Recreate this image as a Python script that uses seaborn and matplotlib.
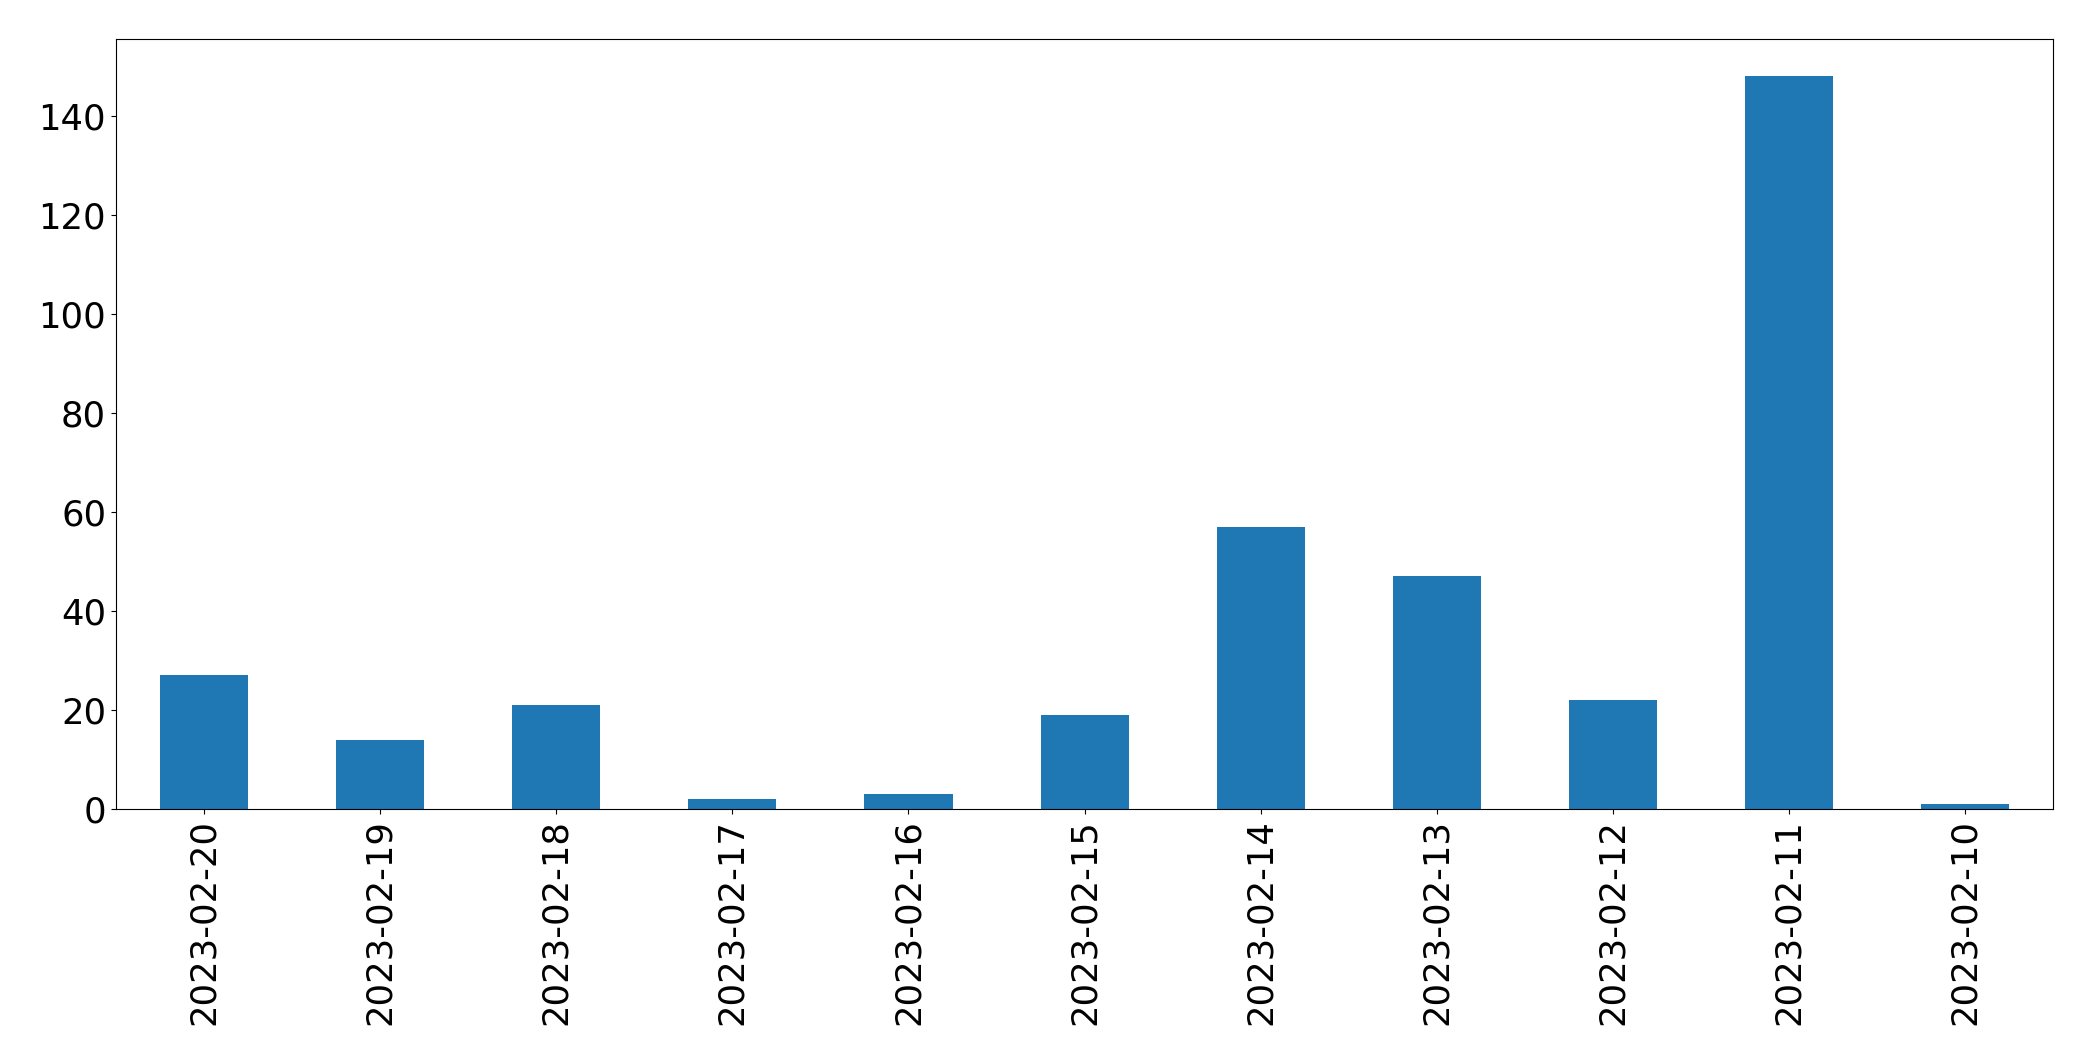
import matplotlib
matplotlib.use("Agg")
import matplotlib.pyplot as plt
import seaborn as sns
import pandas as pd

dates = ["2023-02-20", "2023-02-19", "2023-02-18", "2023-02-17", "2023-02-16",
         "2023-02-15", "2023-02-14", "2023-02-13", "2023-02-12", "2023-02-11",
         "2023-02-10"]
counts = [27, 14, 21, 2, 3, 19, 57, 47, 22, 148, 1]

df = pd.DataFrame({"date": dates, "count": counts})

fig = plt.figure(figsize=(20.93, 10.61), dpi=100)
ax = fig.add_axes([0.0554, 0.2375, 0.9256, 0.7255])
sns.barplot(data=df, x="date", y="count", order=dates, color="#1f77b4",
            saturation=1, width=0.5, ax=ax)
ax.set_xlim(-0.5, len(dates) - 0.5)
ax.set_ylim(0, max(counts) * 1.05)
ax.set_xlabel("")
ax.set_ylabel("")
ax.tick_params(axis="x", labelrotation=90, labelsize=25.5)
ax.tick_params(axis="y", labelsize=25.5)
fig.savefig("out.png", dpi=100)
